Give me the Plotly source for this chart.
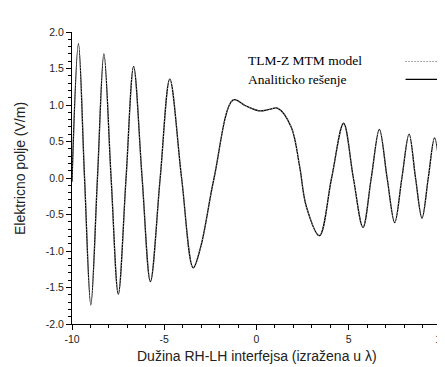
import plotly.graph_objects as go

# Data (x in wavelengths, E in V/m)
x_analytic = [-10, -9.65, -9.32, -8.98, -8.62, -8.27, -7.88, -7.49, -7.07, -6.66,
              -6.2, -5.75, -5.22, -4.70, -4.06, -3.43, -3.02, -2.3, -1.26, -0.6,
              0.16, 0.7, 1.16, 1.88, 2.34, 2.7, 3.41, 4.07, 4.72, 5.25,
              5.77, 6.22, 6.66, 7.08, 7.49, 7.88, 8.27, 8.62, 8.97, 9.31,
              9.65, 10]
y_analytic = [-0.05, 1.84, 0.0, -1.74, 0.0, 1.70, 0.0, -1.59, 0.0, 1.525,
              0.0, -1.42, 0.0, 1.355, 0.0, -1.23, -0.94, 0.0, 1.07, 0.99,
              0.92, 0.94, 0.955, 0.70, 0.155, -0.39, -0.79, 0.0, 0.75, 0.0,
              -0.675, 0.0, 0.667, 0.0, -0.61, 0.0, 0.60, 0.0, -0.55, 0.0,
              0.55, -0.07]
x_tlm = list(x_analytic)
y_tlm = list(y_analytic)

series_names = ["TLM-Z MTM model", "Analiticko rešenje"]
x_ticks = [-10, -5, 0, 5, 10]
y_ticks = [-2.0, -1.5, -1.0, -0.5, 0.0, 0.5, 1.0, 1.5, 2.0]
x_title = "Dužina RH-LH interfejsa (izražena u λ)"
y_title = "Elektricno polje (V/m)"

# page body adds an 8px margin; figure is shrunk to compensate
OFF = 8

fig = go.Figure()
fig.add_trace(go.Scatter(x=x_analytic, y=y_analytic, mode="lines", name=series_names[1],
                         line=dict(color="#000000", width=1.3, shape="spline", smoothing=1.0)))
fig.add_trace(go.Scatter(x=x_tlm, y=y_tlm, mode="lines", name=series_names[0],
                         line=dict(color="#9a9a9a", width=1.0, dash="1px,2px", shape="spline", smoothing=1.0)))

axis_common = dict(showgrid=False, zeroline=False, showline=True, linecolor="#000000", linewidth=1,
                   ticks="outside", ticklen=5, tickwidth=1, tickcolor="#000000",
                   ticklabeloverflow="allow",
                   tickfont=dict(family="Liberation Sans, Arial", size=10.5, color="#222222"))
fig.update_xaxes(range=[-10, 10], tickvals=x_ticks, ticktext=[str(v) for v in x_ticks],
                 minor=dict(dtick=1, ticks="outside", ticklen=3, tickcolor="#000000"),
                 **axis_common)
fig.update_yaxes(range=[-2, 2], tickvals=y_ticks, ticktext=[f"{v:.1f}" for v in y_ticks],
                 minor=dict(dtick=0.1, ticks="outside", ticklen=3, tickcolor="#000000"),
                 **axis_common)

fig.update_layout(
    width=445 - OFF, height=367 - OFF,
    margin=dict(l=72 - OFF, r=4, t=32 - OFF, b=43, autoexpand=False),
    plot_bgcolor="white", paper_bgcolor="white",
    showlegend=False,
    annotations=[
        dict(text=x_title, xref="paper", yref="paper", x=0.5, y=0, yshift=-32,
             showarrow=False, xanchor="center", yanchor="middle",
             font=dict(family="Liberation Sans, Arial", size=14, color="#222222")),
        dict(text=y_title, xref="paper", yref="paper", x=0, y=0.5, xshift=-52, yshift=9,
             showarrow=False, textangle=-90, xanchor="center", yanchor="middle",
             font=dict(family="Liberation Sans, Arial", size=14, color="#222222")),
        dict(text=series_names[0], xref="paper", yref="paper", x=0.471, y=0.902,
             showarrow=False, xanchor="left", yanchor="middle",
             font=dict(family="Liberation Serif, Times New Roman", size=13.5, color="#000000")),
        dict(text=series_names[1], xref="paper", yref="paper", x=0.471, y=0.838,
             showarrow=False, xanchor="left", yanchor="middle",
             font=dict(family="Liberation Serif, Times New Roman", size=13.5, color="#000000")),
    ],
    shapes=[
        dict(type="line", xref="paper", yref="paper", x0=0.904, x1=0.99, y0=0.899, y1=0.899,
             line=dict(color="#555555", width=1, dash="1px,2px")),
        dict(type="line", xref="paper", yref="paper", x0=0.904, x1=0.99, y0=0.838, y1=0.838,
             line=dict(color="#000000", width=1.2)),
    ],
)

fig.write_html("out.html")
